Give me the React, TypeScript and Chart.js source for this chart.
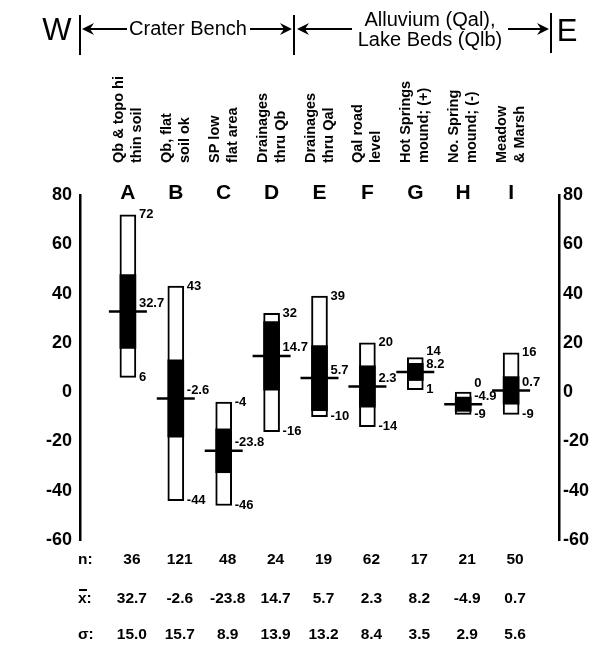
import React, { useEffect, useRef } from 'react';
import { Chart, registerables } from 'chart.js';

Chart.register(...registerables);

const FONT = '"Liberation Sans", Arial, Helvetica, sans-serif';

const letters = ['A', 'B', 'C', 'D', 'E', 'F', 'G', 'H', 'I'];
const descriptions: string[][] = [
  ['Qb & topo hi', 'thin soil'],
  ['Qb, flat', 'soil ok'],
  ['SP low', 'flat area'],
  ['Drainages', 'thru Qb'],
  ['Drainages', 'thru Qal'],
  ['Qal road', 'level'],
  ['Hot Springs', 'mound; (+)'],
  ['No. Spring', 'mound; (-)'],
  ['Meadow', '& Marsh'],
];
const maxValues = [72, 43, -4, 32, 39, 20, 14, 0, 16];
const minValues = [6, -44, -46, -16, -10, -14, 1, -9, -9];
const meanValues = [32.7, -2.6, -23.8, 14.7, 5.7, 2.3, 8.2, -4.9, 0.7];
const sigmaValues = [15.0, 15.7, 8.9, 13.9, 13.2, 8.4, 3.5, 2.9, 5.6];
const countValues = [36, 121, 48, 24, 19, 62, 17, 21, 50];
const yMin = -60;
const yMax = 80;
const yStep = 20;

const xLabels = ['', ...letters, ''];

function arrowHead(ctx: CanvasRenderingContext2D, tipX: number, y: number, dir: number) {
  // dir = -1 points left, +1 points right
  ctx.beginPath();
  ctx.moveTo(tipX, y);
  ctx.lineTo(tipX - dir * 12, y - 6);
  ctx.lineTo(tipX - dir * 8, y);
  ctx.lineTo(tipX - dir * 12, y + 6);
  ctx.closePath();
  ctx.fill();
}

const annotationPlugin = {
  id: 'annotations',
  afterDraw(chart: any) {
    const ctx: CanvasRenderingContext2D = chart.ctx;
    const xs = chart.scales.x;
    const ys = chart.scales.y;
    ctx.save();
    ctx.fillStyle = '#000';
    ctx.strokeStyle = '#000';

    // ---- header ----
    ctx.lineWidth = 2;
    ctx.beginPath();
    ctx.moveTo(80, 15); ctx.lineTo(80, 55);
    ctx.moveTo(294, 15); ctx.lineTo(294, 55);
    ctx.moveTo(551, 13); ctx.lineTo(551, 53);
    ctx.moveTo(86, 29); ctx.lineTo(127, 29);
    ctx.moveTo(250, 29); ctx.lineTo(286, 29);
    ctx.moveTo(301, 29); ctx.lineTo(352, 29);
    ctx.moveTo(508, 29); ctx.lineTo(543, 29);
    ctx.stroke();
    arrowHead(ctx, 82, 29, -1);
    arrowHead(ctx, 292, 29, 1);
    arrowHead(ctx, 297, 29, -1);
    arrowHead(ctx, 549, 29, 1);

    ctx.textBaseline = 'middle';
    ctx.textAlign = 'center';
    ctx.font = `31px ${FONT}`;
    ctx.fillText('W', 57, 31);
    ctx.fillText('E', 567, 32);
    ctx.font = `20px ${FONT}`;
    ctx.fillText('Crater Bench', 188, 29);
    ctx.fillText('Alluvium (Qal),', 430, 20);
    ctx.fillText('Lake Beds (Qlb)', 430, 40);

    // ---- category descriptions (rotated) ----
    ctx.font = `bold 14.5px ${FONT}`;
    letters.forEach((_, i) => {
      const x = xs.getPixelForValue(i + 1);
      descriptions[i].forEach((line, j) => {
        ctx.save();
        ctx.translate(x - 9 + j * 18, 163);
        ctx.rotate(-Math.PI / 2);
        ctx.textAlign = 'left';
        ctx.textBaseline = 'middle';
        ctx.fillText(line, 0, 0);
        ctx.restore();
      });
    });

    // ---- letters ----
    ctx.font = `bold 21px ${FONT}`;
    ctx.textAlign = 'center';
    ctx.textBaseline = 'middle';
    letters.forEach((l, i) => {
      ctx.fillText(l, xs.getPixelForValue(i + 1), 193);
    });

    // ---- value labels ----
    ctx.font = `bold 13px ${FONT}`;
    ctx.textAlign = 'left';
    ctx.textBaseline = 'middle';
    letters.forEach((_, i) => {
      const x = xs.getPixelForValue(i + 1);
      const lx = x + 8 + 3;
      const meanY = ys.getPixelForValue(meanValues[i]) - 8;
      let maxY = ys.getPixelForValue(maxValues[i]);
      let minY = ys.getPixelForValue(minValues[i]);
      if (Math.abs(maxY - meanY) < 12) maxY = meanY - 13;
      if (Math.abs(minY - meanY) < 12) minY = meanY + 13;
      ctx.fillText(String(maxValues[i]), lx, maxY);
      ctx.fillText(String(minValues[i]), lx, minY);
      ctx.fillText(meanValues[i].toFixed(1), lx, meanY);
    });

    // ---- statistics table ----
    ctx.font = `bold 15.5px ${FONT}`;
    const rows: [string, string[], number][] = [
      ['n:', countValues.map(String), 560],
      ['x:', meanValues.map((v) => v.toFixed(1)), 599],
      ['σ:', sigmaValues.map((v) => v.toFixed(1)), 635],
    ];
    rows.forEach(([label, vals, y]) => {
      ctx.textAlign = 'left';
      ctx.fillText(label, 78, y);
      ctx.textAlign = 'center';
      vals.forEach((v, i) => {
        ctx.fillText(v, xs.getPixelForValue(i + 1) + 4, y);
      });
    });
    // overline on x
    ctx.fillRect(79, 589, 8, 2);

    ctx.restore();
  },
};

export default function App() {
  const canvasRef = useRef<HTMLCanvasElement | null>(null);

  useEffect(() => {
    if (!canvasRef.current) return;
    const rangeData = [null, ...letters.map((_, i) => [minValues[i], maxValues[i]]), null];
    const sigmaData = [
      null,
      ...letters.map((_, i) => [meanValues[i] - sigmaValues[i], meanValues[i] + sigmaValues[i]]),
      null,
    ];
    const meanData = [null, ...meanValues, null];

    const yAxisBase = (position: 'left' | 'right', width: number, padding: number) => ({
      type: 'linear' as const,
      position,
      min: yMin,
      max: yMax,
      ticks: {
        stepSize: yStep,
        padding,
        color: '#000',
        font: { family: FONT, size: 18, weight: 'bold' as const },
      },
      grid: { display: false, drawTicks: false },
      border: { display: true, color: '#000', width: 2.5 },
      afterFit: (s: any) => {
        s.width = width;
      },
    });

    const chart = new Chart(canvasRef.current, {
      type: 'bar',
      data: {
        labels: xLabels,
        datasets: [
          {
            type: 'line',
            label: 'Mean',
            data: meanData as any,
            showLine: false,
            pointStyle: 'line',
            pointRadius: 19,
            pointBorderWidth: 2.5,
            pointBorderColor: '#000',
            pointBackgroundColor: '#000',
            order: 0,
          } as any,
          {
            label: 'Mean ± σ',
            data: sigmaData as any,
            backgroundColor: '#000',
            borderWidth: 0,
            barThickness: 16,
            grouped: false,
            order: 1,
          } as any,
          {
            label: 'Range',
            data: rangeData as any,
            backgroundColor: '#fff',
            borderColor: '#000',
            borderWidth: 2,
            borderSkipped: false,
            barThickness: 16,
            grouped: false,
            order: 2,
          } as any,
        ],
      },
      options: {
        responsive: false,
        animation: false,
        layout: { padding: { top: 195, bottom: 105, left: 0, right: 0 } },
        plugins: {
          legend: { display: false },
          tooltip: { enabled: false },
          title: { display: false },
        },
        scales: {
          x: {
            type: 'category',
            display: false,
            offset: false,
            grid: { display: false },
          },
          y: yAxisBase('left', 80, 8),
          y2: yAxisBase('right', 46, 4),
        },
      },
      plugins: [annotationPlugin],
    });
    return () => chart.destroy();
  }, []);

  return (
    <div style={{ position: 'absolute', left: 0, top: 0, width: 605, height: 645, background: '#fff' }}>
      <canvas ref={canvasRef} width={605} height={645} style={{ display: 'block' }} />
    </div>
  );
}
